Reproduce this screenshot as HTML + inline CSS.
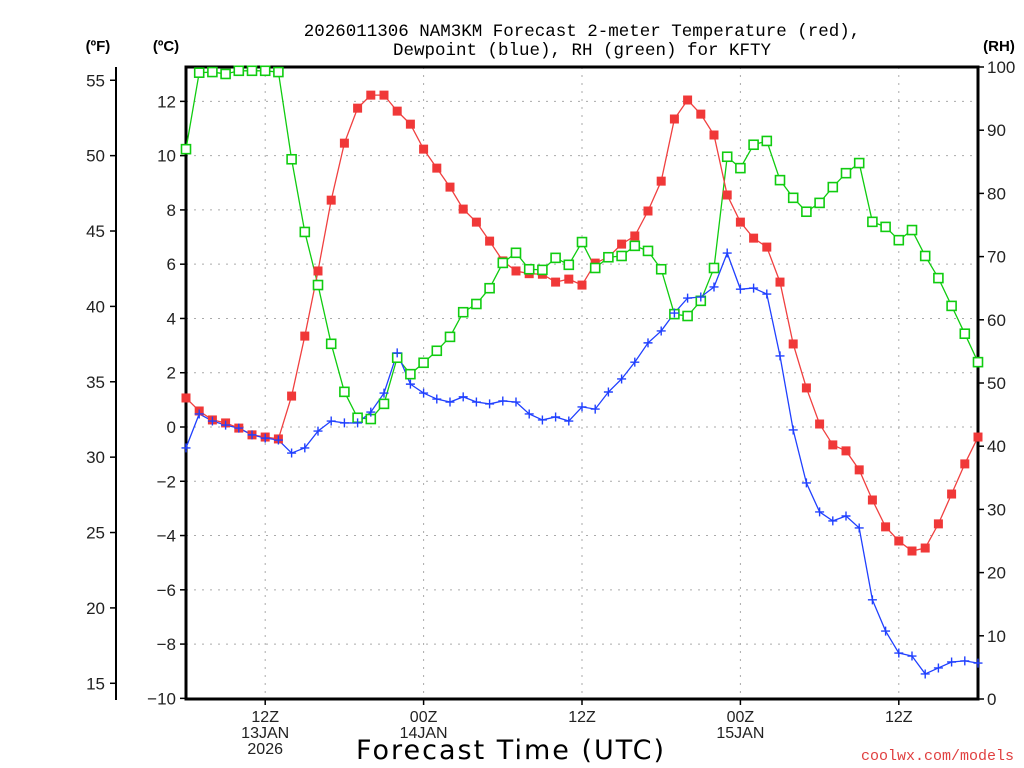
<!DOCTYPE html>
<html><head><meta charset="utf-8"><style>
body{margin:0;background:#fff;}
svg{display:block;font-family:"Liberation Sans",sans-serif;}
</style></head><body>
<svg id="chart" width="1024" height="768" viewBox="0 0 1024 768">
<g id="grid"></g>
<g id="axes"></g>
<g id="series"></g>
<text x="582" y="36" text-anchor="middle" font-family="Liberation Mono, monospace" font-size="17.5">2026011306 NAM3KM Forecast 2-meter Temperature (red),</text>
<text x="582" y="55" text-anchor="middle" font-family="Liberation Mono, monospace" font-size="17.5">Dewpoint (blue), RH (green) for KFTY</text>
<text x="98" y="51" text-anchor="middle" font-size="15" font-weight="bold">(ºF)</text>
<text x="166" y="51" text-anchor="middle" font-size="15" font-weight="bold">(ºC)</text>
<text x="999" y="51" text-anchor="middle" font-size="15" font-weight="bold">(RH)</text>
<text x="511" y="759" text-anchor="middle" font-size="27" font-family="DejaVu Sans, sans-serif" letter-spacing="2">Forecast Time (UTC)</text>
<text x="1014" y="760" text-anchor="end" font-family="Liberation Mono, monospace" font-size="15" fill="#e04040">coolwx.com/models</text>
</svg>
<script>
const hours = [];
for (let h = 0; h <= 60; h++) hours.push(h);
const tempC = [1.07,0.59,0.26,0.15,-0.04,-0.29,-0.37,-0.44,1.14,3.35,5.75,8.36,10.46,11.75,12.23,12.23,11.64,11.16,10.24,9.54,8.84,8.03,7.55,6.85,6.12,5.75,5.65,5.63,5.34,5.45,5.23,6.04,6.26,6.74,7.04,7.96,9.06,11.35,12.05,11.53,10.76,8.55,7.55,6.96,6.63,5.34,3.06,1.44,0.11,-0.66,-0.88,-1.58,-2.69,-3.68,-4.2,-4.57,-4.46,-3.57,-2.47,-1.36,-0.37];
const dewC = [-0.77,0.48,0.22,0.07,-0.04,-0.29,-0.41,-0.48,-0.96,-0.77,-0.15,0.22,0.15,0.15,0.55,1.25,2.73,1.58,1.25,1.03,0.92,1.11,0.92,0.85,0.96,0.92,0.48,0.26,0.37,0.22,0.74,0.66,1.29,1.77,2.39,3.1,3.54,4.2,4.75,4.79,5.16,6.41,5.08,5.12,4.9,2.62,-0.11,-2.06,-3.13,-3.46,-3.28,-3.72,-6.37,-7.52,-8.33,-8.44,-9.1,-8.88,-8.66,-8.62,-8.7];
const rh = [87.0,99.1,99.2,98.9,99.4,99.4,99.4,99.2,85.4,73.9,65.5,56.2,48.6,44.5,44.3,46.7,54.0,51.4,53.2,55.1,57.3,61.2,62.5,65.0,69.0,70.6,68.0,67.9,69.8,68.7,72.3,68.2,69.9,70.1,71.7,70.9,68.0,60.9,60.6,63.0,68.2,85.8,84.0,87.7,88.3,82.1,79.3,77.1,78.5,81.0,83.2,84.8,75.5,74.7,72.6,74.2,70.1,66.6,62.2,57.8,53.3];
const cTicks = [-10,-8,-6,-4,-2,0,2,4,6,8,10,12];
const fTicks = [15,20,25,30,35,40,45,50,55];
const rhTicks = [0,10,20,30,40,50,60,70,80,90,100];
const timeTicks = [6,18,30,42,54];
const timeLabels = [["12Z","13JAN","2026"],["00Z","14JAN"],["12Z"],["00Z","15JAN"],["12Z"]];

const NS="http://www.w3.org/2000/svg";
const L=186,R=978,T=67,B=699;
const xS=h=>L+(R-L)*h/60;
const cS=c=>427-c*27.136;
const fS=f=>cS((f-32)*5/9);
const rS=v=>B-(B-T)*v/100;
function mk(tag,attrs,parent,text){const e=document.createElementNS(NS,tag);for(const k in attrs)e.setAttribute(k,attrs[k]);if(text!==undefined)e.textContent=text;parent.appendChild(e);return e;}
const grid=document.getElementById('grid'),axes=document.getElementById('axes'),ser=document.getElementById('series');

cTicks.forEach(c=>{
 if(c>-10){const g=mk('line',{x1:L,x2:R,y1:cS(c),y2:cS(c),stroke:'#aaa','stroke-dasharray':'2,6'},grid);
 
 }
 const t=mk('line',{x1:L-6,x2:L,y1:cS(c),y2:cS(c),stroke:'#000','stroke-width':1.5},axes);
 
 
 const lb=mk('text',{x:L-10,y:cS(c)+6,'text-anchor':'end','font-size':17,fill:'#222'},axes,c<0?'\u2212'+(-c):String(c));
 
 
});
timeTicks.forEach((h,i)=>{
 const g=mk('line',{x1:xS(h),x2:xS(h),y1:T,y2:B,stroke:'#aaa','stroke-dasharray':'2,6'},grid);
 
 
 const t=mk('line',{x1:xS(h),x2:xS(h),y1:B,y2:B+6,stroke:'#000','stroke-width':1.5},axes);
 
 
 timeLabels[i].forEach((s,j)=>{
  const lb=mk('text',{x:xS(h),y:B+23+j*16,'text-anchor':'middle','font-size':16,fill:'#222'},axes,s);
  
  
 });
});
const fa=mk('line',{x1:116,x2:116,y1:T,y2:B+1,stroke:'#000','stroke-width':2},axes);


fTicks.forEach(f=>{
 const t=mk('line',{x1:110,x2:116,y1:fS(f),y2:fS(f),stroke:'#000','stroke-width':1.5},axes);
 
 
 const lb=mk('text',{x:105,y:fS(f)+6,'text-anchor':'end','font-size':17,fill:'#222'},axes,String(f));
 
 
});
rhTicks.forEach(v=>{
 const t=mk('line',{x1:R,x2:R+6,y1:rS(v),y2:rS(v),stroke:'#000','stroke-width':1.5},axes);
 
 
 const lb=mk('text',{x:R+9,y:rS(v)+6,'text-anchor':'start','font-size':17,fill:'#222'},axes,String(v));
 
 
});
const fr=mk('rect',{x:L,y:T,width:R-L,height:B-T,fill:'none',stroke:'#000','stroke-width':3},axes);



function line(vals,sc,col,name){
 const p=mk('polyline',{points:vals.map((v,i)=>xS(hours[i])+','+sc(v)).join(' '),fill:'none',stroke:col,'stroke-width':1.3},ser);
 
 
}
line(rh,rS,'#10cc10','rh-line');
line(tempC,cS,'#f04040','temperature-line');
line(dewC,cS,'#2040ff','dewpoint-line');
tempC.forEach((v,i)=>{
 const m=mk('rect',{x:xS(hours[i])-4.5,y:cS(v)-4.5,width:9,height:9,fill:'#f03838'},ser);
 
 
});
rh.forEach((v,i)=>{
 const m=mk('rect',{x:xS(hours[i])-4.5,y:rS(v)-4.5,width:9,height:9,fill:'#fff',stroke:'#10cc10','stroke-width':1.6},ser);
 
 
});
dewC.forEach((v,i)=>{
 const x=xS(hours[i]),y=cS(v);
 const m=mk('path',{d:`M${x-4.5},${y}H${x+4.5}M${x},${y-4.5}V${y+4.5}`,stroke:'#2040ff','stroke-width':1.4},ser);
 
 
});
</script>
</body></html>
